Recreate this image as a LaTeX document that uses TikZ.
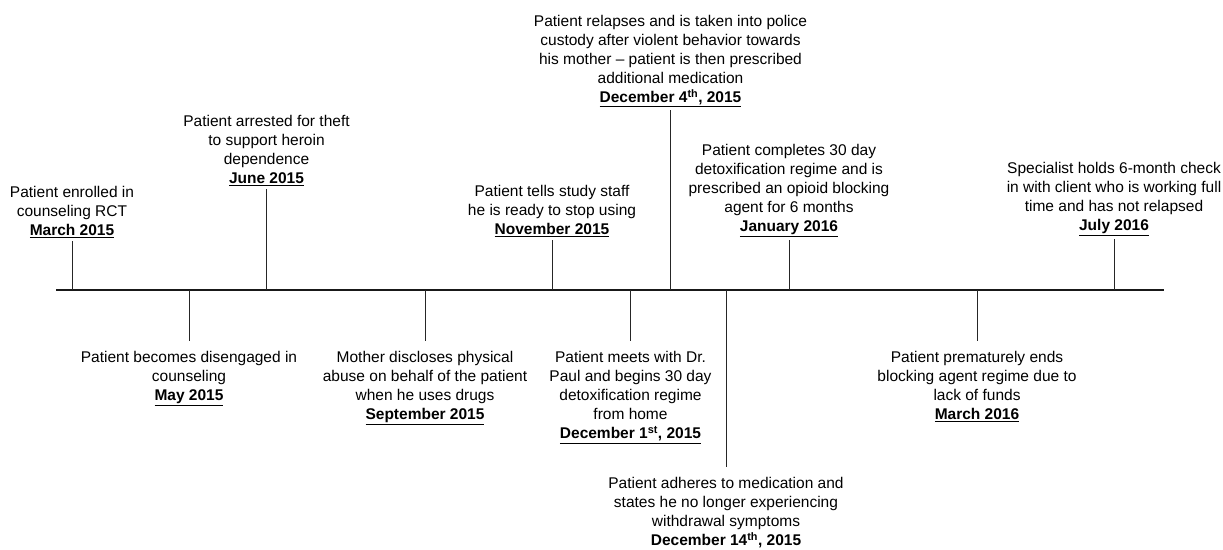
\documentclass[tikz,border=0pt]{standalone}
\usepackage{fontspec}
\setmainfont{Liberation Sans}
\usepackage{tikz}
\usetikzlibrary{positioning}

\newcommand{\when}[1]{\textbf{\underline{#1}}}

\begin{document}
\begin{tikzpicture}[x=1pt,y=-1pt,
    axis/.style={draw=black!90,line width=1.8pt},
    tick/.style={draw=black!85,line width=1pt},
    uplabel/.style={anchor=south,align=center,inner sep=3pt,
        font=\fontsize{15.5}{19}\selectfont},
    downlabel/.style={anchor=north,align=center,inner xsep=2pt,inner ysep=10.5pt,
        font=\fontsize{15.5}{19}\selectfont}]

    \useasboundingbox (0,0) rectangle (1223,549);

    %the time line
    \coordinate (start) at (56,290);
    \coordinate (stop) at (1164,290);
    \draw[axis] (start) -- (stop);

    %points on the line
    \coordinate (mar15) at (72,290);
    \coordinate (may15) at (189,290);
    \coordinate (jun15) at (266.5,290);
    \coordinate (sep15) at (425,290);
    \coordinate (nov15) at (552,290);
    \coordinate (dec1) at (630.5,290);
    \coordinate (dec4) at (670.5,290);
    \coordinate (dec14) at (726,290);
    \coordinate (jan16) at (789,290);
    \coordinate (mar16) at (977,290);
    \coordinate (jul16) at (1114,290);

    %events above the line
    \node[uplabel] (enrolled) at (72,241) {Patient enrolled in\\counseling RCT\\\when{March 2015}};
    \node[uplabel] (arrested) at (266.5,189) {Patient arrested for theft\\to support heroin\\dependence\\\when{June 2015}};
    \node[uplabel] (ready) at (552,240) {Patient tells study staff\\he is ready to stop using\\\when{November 2015}};
    \node[uplabel] (relapse) at (670.5,110) {Patient relapses and is taken into police\\custody after violent behavior towards\\his mother -- patient is then prescribed\\additional medication\\\when{December 4\textsuperscript{th}, 2015}};
    \node[uplabel] (completes) at (789,240) {Patient completes 30 day\\detoxification regime and is\\prescribed an opioid blocking\\agent for 6 months\\\when{January 2016}};
    \node[uplabel] (checkin) at (1114,239) {Specialist holds 6-month check\\in with client who is working full\\time and has not relapsed\\\when{July 2016}};

    %events below the line
    \node[downlabel] (disengaged) at (189,341) {Patient becomes disengaged in\\counseling\\\when{May 2015}};
    \node[downlabel] (discloses) at (425,341) {Mother discloses physical\\abuse on behalf of the patient\\when he uses drugs\\\when{September 2015}};
    \node[downlabel] (detox) at (630.5,341) {Patient meets with Dr.\\Paul and begins 30 day\\detoxification regime\\from home\\\when{December 1\textsuperscript{st}, 2015}};
    \node[downlabel] (adheres) at (726,467) {Patient adheres to medication and\\states he no longer experiencing\\withdrawal symptoms\\\when{December 14\textsuperscript{th}, 2015}};
    \node[downlabel] (ends) at (977,341) {Patient prematurely ends\\blocking agent regime due to\\lack of funds\\\when{March 2016}};

    %ticks
    \draw[tick] (mar15) -- (enrolled.south);
    \draw[tick] (jun15) -- (arrested.south);
    \draw[tick] (nov15) -- (ready.south);
    \draw[tick] (dec4) -- (relapse.south);
    \draw[tick] (jan16) -- (completes.south);
    \draw[tick] (jul16) -- (checkin.south);
    \draw[tick] (may15) -- (disengaged.north);
    \draw[tick] (sep15) -- (discloses.north);
    \draw[tick] (dec1) -- (detox.north);
    \draw[tick] (dec14) -- (adheres.north);
    \draw[tick] (mar16) -- (ends.north);

\end{tikzpicture}
\end{document}
